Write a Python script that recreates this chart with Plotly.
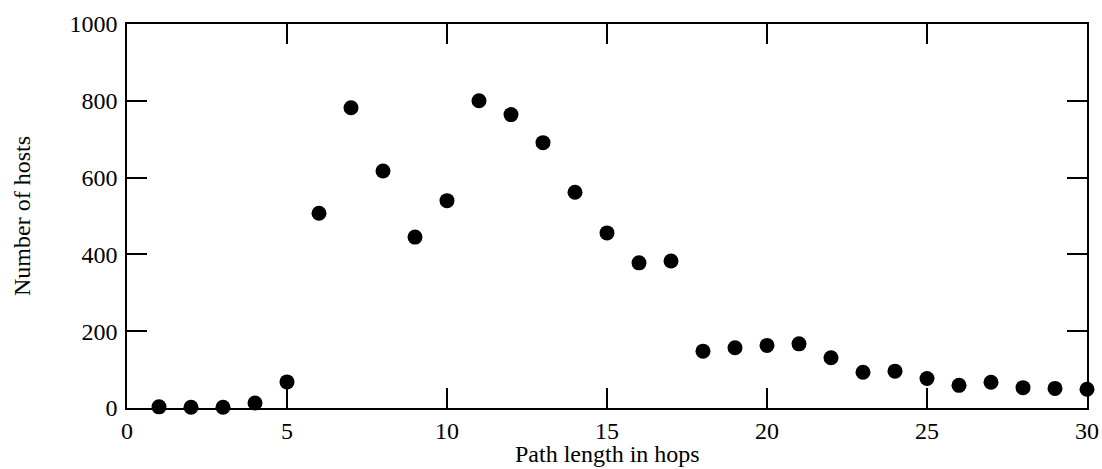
import plotly.graph_objects as go

# Path length (hops) and number of hosts at each length
hops = list(range(1, 31))
hosts = [3, 2, 2, 13, 68, 507, 782, 617, 445, 540,
         800, 764, 691, 562, 456, 378, 383, 148, 157, 163,
         167, 131, 93, 96, 77, 59, 67, 53, 51, 49]

x_ticks = [0, 5, 10, 15, 20, 25, 30]
y_ticks = [0, 200, 400, 600, 800, 1000]

FONT = "Liberation Serif, Times New Roman, serif"
H, MT, MB = 469, 24, 61

fig = go.Figure(
    go.Scatter(
        x=hops,
        y=hosts,
        mode="markers",
        marker=dict(color="black", size=15),
        cliponaxis=False,
        showlegend=False,
    )
)

axis_common = dict(
    showgrid=False,
    zeroline=False,
    showline=True,
    linecolor="black",
    linewidth=1.5,
    mirror="ticks",
    ticks="inside",
    ticklen=20,
    tickwidth=1.5,
    tickcolor="black",
    automargin=False,
    tickfont=dict(family=FONT, size=24, color="black"),
)

fig.update_xaxes(
    range=[0, 30],
    tickvals=x_ticks,
    ticktext=[str(v) for v in x_ticks],
    ticklabelstandoff=0,
    **axis_common,
)
fig.update_yaxes(
    range=[0, 1000],
    tickvals=y_ticks,
    ticktext=[str(v) for v in y_ticks],
    ticklabelstandoff=3,
    title=dict(text="Number of hosts", font=dict(family=FONT, size=24, color="black"), standoff=32),
    **axis_common,
)

# x-axis title sits flush with the bottom edge of the figure
fig.add_annotation(
    text="Path length in hops",
    xref="paper", yref="paper",
    x=0.5, y=-MB / (H - MT - MB),
    xanchor="center", yanchor="bottom",
    showarrow=False,
    font=dict(family=FONT, size=24, color="black"),
)

fig.update_layout(
    width=1102,
    height=H,
    margin=dict(l=127, r=15, t=MT, b=MB),
    paper_bgcolor="white",
    plot_bgcolor="white",
)

fig.write_html("out.html")
